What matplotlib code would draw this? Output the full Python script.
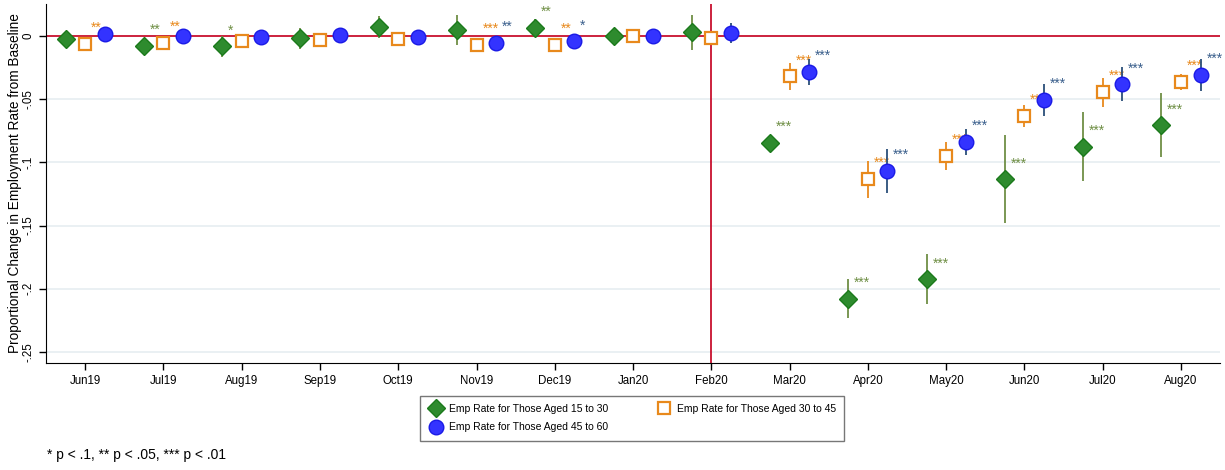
import matplotlib
matplotlib.use("Agg")
import matplotlib.pyplot as plt
import numpy as np

plt.rcParams['font.family'] = ['Liberation Sans', 'DejaVu Sans']

months = ["Jun19", "Jul19", "Aug19", "Sep19", "Oct19", "Nov19", "Dec19", "Jan20",
          "Feb20", "Mar20", "Apr20", "May20", "Jun20", "Jul20", "Aug20"]

# aged 15 to 30
young = [-0.0024, -0.0077, -0.0082, -0.0018, 0.0069, 0.0045, 0.0066, 0.0003,
         0.0029, -0.0844, -0.2078, -0.1925, -0.1134, -0.0876, -0.0707]
young_lo = [-0.0075, -0.0125, -0.0165, -0.0103, -0.0018, -0.0071, -0.0003, -0.0035,
            -0.0110, -0.0905, -0.2233, -0.2120, -0.1482, -0.1147, -0.0960]
young_hi = [0.0027, -0.0029, 0.0000, 0.0063, 0.0156, 0.0166, 0.0135, 0.0041,
            0.0166, -0.0783, -0.1920, -0.1725, -0.0781, -0.0604, -0.0449]
young_stars = ["", "**", "*", "", "", "", "**", "", "", "***", "***", "***", "***", "***", "***"]

# aged 30 to 45
mid = [-0.0063, -0.0053, -0.0037, -0.0032, -0.0024, -0.0071, -0.0069, 0.0000,
       -0.0016, -0.0319, -0.1131, -0.0949, -0.0633, -0.0443, -0.0364]
mid_lo = [-0.0100, -0.0090, -0.0075, -0.0070, -0.0060, -0.0110, -0.0105, -0.0035,
          -0.0050, -0.0430, -0.1282, -0.1060, -0.0722, -0.0559, -0.0427]
mid_hi = [-0.0025, -0.0015, 0.0000, 0.0005, 0.0012, -0.0032, -0.0032, 0.0035,
          0.0018, -0.0211, -0.0986, -0.0841, -0.0548, -0.0335, -0.0301]
mid_stars = ["**", "**", "", "", "", "***", "**", "", "", "***", "***", "***", "***", "***", "***"]

# aged 45 to 60
old = [0.0016, 0.0000, -0.0010, 0.0006, -0.0008, -0.0053, -0.0042, 0.0000,
       0.0026, -0.0282, -0.1068, -0.0839, -0.0506, -0.0382, -0.0306]
old_lo = [-0.0020, -0.0035, -0.0045, -0.0030, -0.0043, -0.0090, -0.0080, -0.0035,
          -0.0058, -0.0388, -0.1244, -0.0942, -0.0631, -0.0514, -0.0433]
old_hi = [0.0050, 0.0035, 0.0025, 0.0040, 0.0027, -0.0016, -0.0004, 0.0035,
          0.0105, -0.0180, -0.0891, -0.0738, -0.0382, -0.0243, -0.0185]
old_stars = ["", "", "", "", "", "**", "*", "", "", "***", "***", "***", "***", "***", "***"]

x = np.arange(len(months))

fig = plt.figure(figsize=(12.25, 4.7), dpi=100)
ax = fig.add_axes([0.0376, 0.2277, 0.9584, 0.7638])

series = [
    (young, young_lo, young_hi, young_stars, -0.25, "D", "#2e8b2e", "#1b7a1b", "#6f8f45", "#6f8f45",
     "Emp Rate for Those Aged 15 to 30", 9.5),
    (mid, mid_lo, mid_hi, mid_stars, 0.0, "s", "white", "#e8891c", "#e8891c", "#e8891c",
     "Emp Rate for Those Aged 30 to 45", 9.0),
    (old, old_lo, old_hi, old_stars, 0.25, "o", "#3333ff", "#1a1ae6", "#2b4f7a", "#3a5f8c",
     "Emp Rate for Those Aged 45 to 60", 10.5),
]

handles = []
z = 3
for vals, lo, hi, stars, off, mk, face, edge, barcol, starcol, lab, ms in series:
    xs = x + off
    v = np.array(vals)
    ax.vlines(xs, lo, hi, color=barcol, lw=1.3, zorder=z)
    h, = ax.plot(xs, v, ls="none", marker=mk, ms=ms, mfc=face, mec=edge,
                 mew=1.6 if mk == "s" else 1.0, zorder=z + 0.1, label=lab)
    handles.append(h)
    for xi, yi, s in zip(xs, v, stars):
        if s:
            ax.text(xi + 0.075, yi + 0.0125, s, color=starcol, fontsize=10,
                    ha="left", va="center", zorder=z + 0.2, clip_on=False)
    z += 1

ax.axhline(0, color="#c8102e", lw=1.3, zorder=2)
ax.axvline(8, color="#c8102e", lw=1.3, zorder=2)

ax.set_xlim(-0.5, 14.5)
ax.set_ylim(-0.2587, 0.0253)
ax.set_xticks(x)
ax.set_xticklabels(months, fontsize=8.3)
yt = [0, -0.05, -0.1, -0.15, -0.2, -0.25]
ax.set_yticks(yt)
ax.set_yticklabels(["0", "-.05", "-.1", "-.15", "-.2", "-.25"], fontsize=8.3,
                   rotation=90, va="center")
for t in yt[1:]:
    ax.axhline(t, color="#e6eef1", lw=1.2, zorder=1)
ax.tick_params(length=5, width=1, color="black")
ax.set_ylabel("Proportional Change in Employment Rate from Baseline", fontsize=9.8, labelpad=0)

for side in ["top", "right"]:
    ax.spines[side].set_visible(False)

leg = fig.legend(handles=[handles[0], handles[2], handles[1]], loc="center",
                 bbox_to_anchor=(0.516, 0.1106), ncol=2, fontsize=7.5, frameon=True,
                 fancybox=False, edgecolor="#555555", handletextpad=0.4, handlelength=1.6,
                 columnspacing=4.6, labelspacing=0.8, borderpad=0.8)
leg.get_frame().set_linewidth(1.0)

fig.text(0.038, 0.032, "* p < .1, ** p < .05, *** p < .01", fontsize=10, ha="left", va="center")

fig.savefig("out.png", dpi=100)
